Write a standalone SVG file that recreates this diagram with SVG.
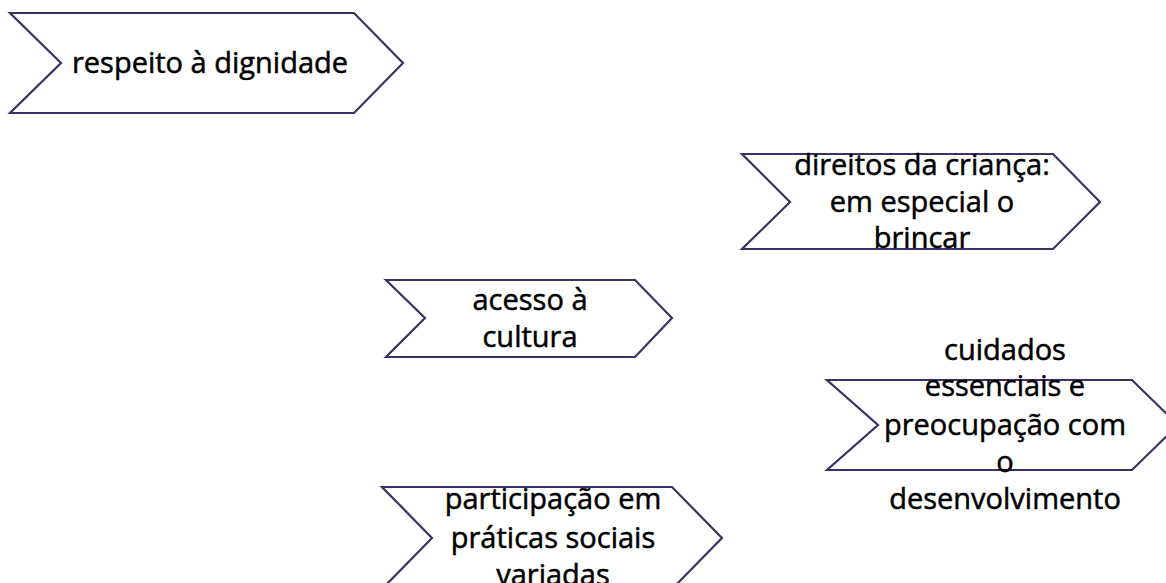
<svg xmlns="http://www.w3.org/2000/svg" width="1166" height="583" viewBox="0 0 1166 583">
<style>
.ch{fill:#ffffff;stroke:#3b3163;stroke-width:2.2;stroke-linejoin:miter}
.t{font-family:"Open Sans","Noto Sans","Liberation Sans",sans-serif;font-size:29px;font-weight:400;fill:#000;stroke:#000;stroke-width:0.5;text-anchor:middle}
</style>
<rect width="1166" height="583" fill="#ffffff"/>
<g id="node1">
<polygon class="ch" points="10,13 354,13 403,63 354,113 10,113 61,63"/>
<text class="t" x="210" y="73">respeito à dignidade</text>
</g>
<g id="node2">
<polygon class="ch" points="742,154 1053,154 1100,202 1053,249 742,249 790,202"/>
<text class="t" x="922" y="175">direitos da criança:</text>
<text class="t" x="922" y="212">em especial o</text>
<text class="t" x="922" y="248">brincar</text>
</g>
<g id="node3">
<polygon class="ch" points="386,280 635,280 672,318 635,357 386,357 425,318"/>
<text class="t" x="530" y="310">acesso à</text>
<text class="t" x="530" y="347">cultura</text>
</g>
<g id="node4">
<polygon class="ch" points="827,380 1132,380 1178,425 1132,470 827,470 878,425"/>
<text class="t" x="1005" y="360">cuidados</text>
<text class="t" x="1005" y="396">essenciais e</text>
<text class="t" x="1005" y="435">preocupação com</text>
<text class="t" x="1005" y="472">o</text>
<text class="t" x="1005" y="509">desenvolvimento</text>
</g>
<g id="node5">
<polygon class="ch" points="382,487 672,487 722,538 672,589 382,589 432,538"/>
<text class="t" x="553" y="509">participação em</text>
<text class="t" x="553" y="548">práticas sociais</text>
<text class="t" x="553" y="585">variadas</text>
</g>
<g id="connectors"></g>
</svg>
